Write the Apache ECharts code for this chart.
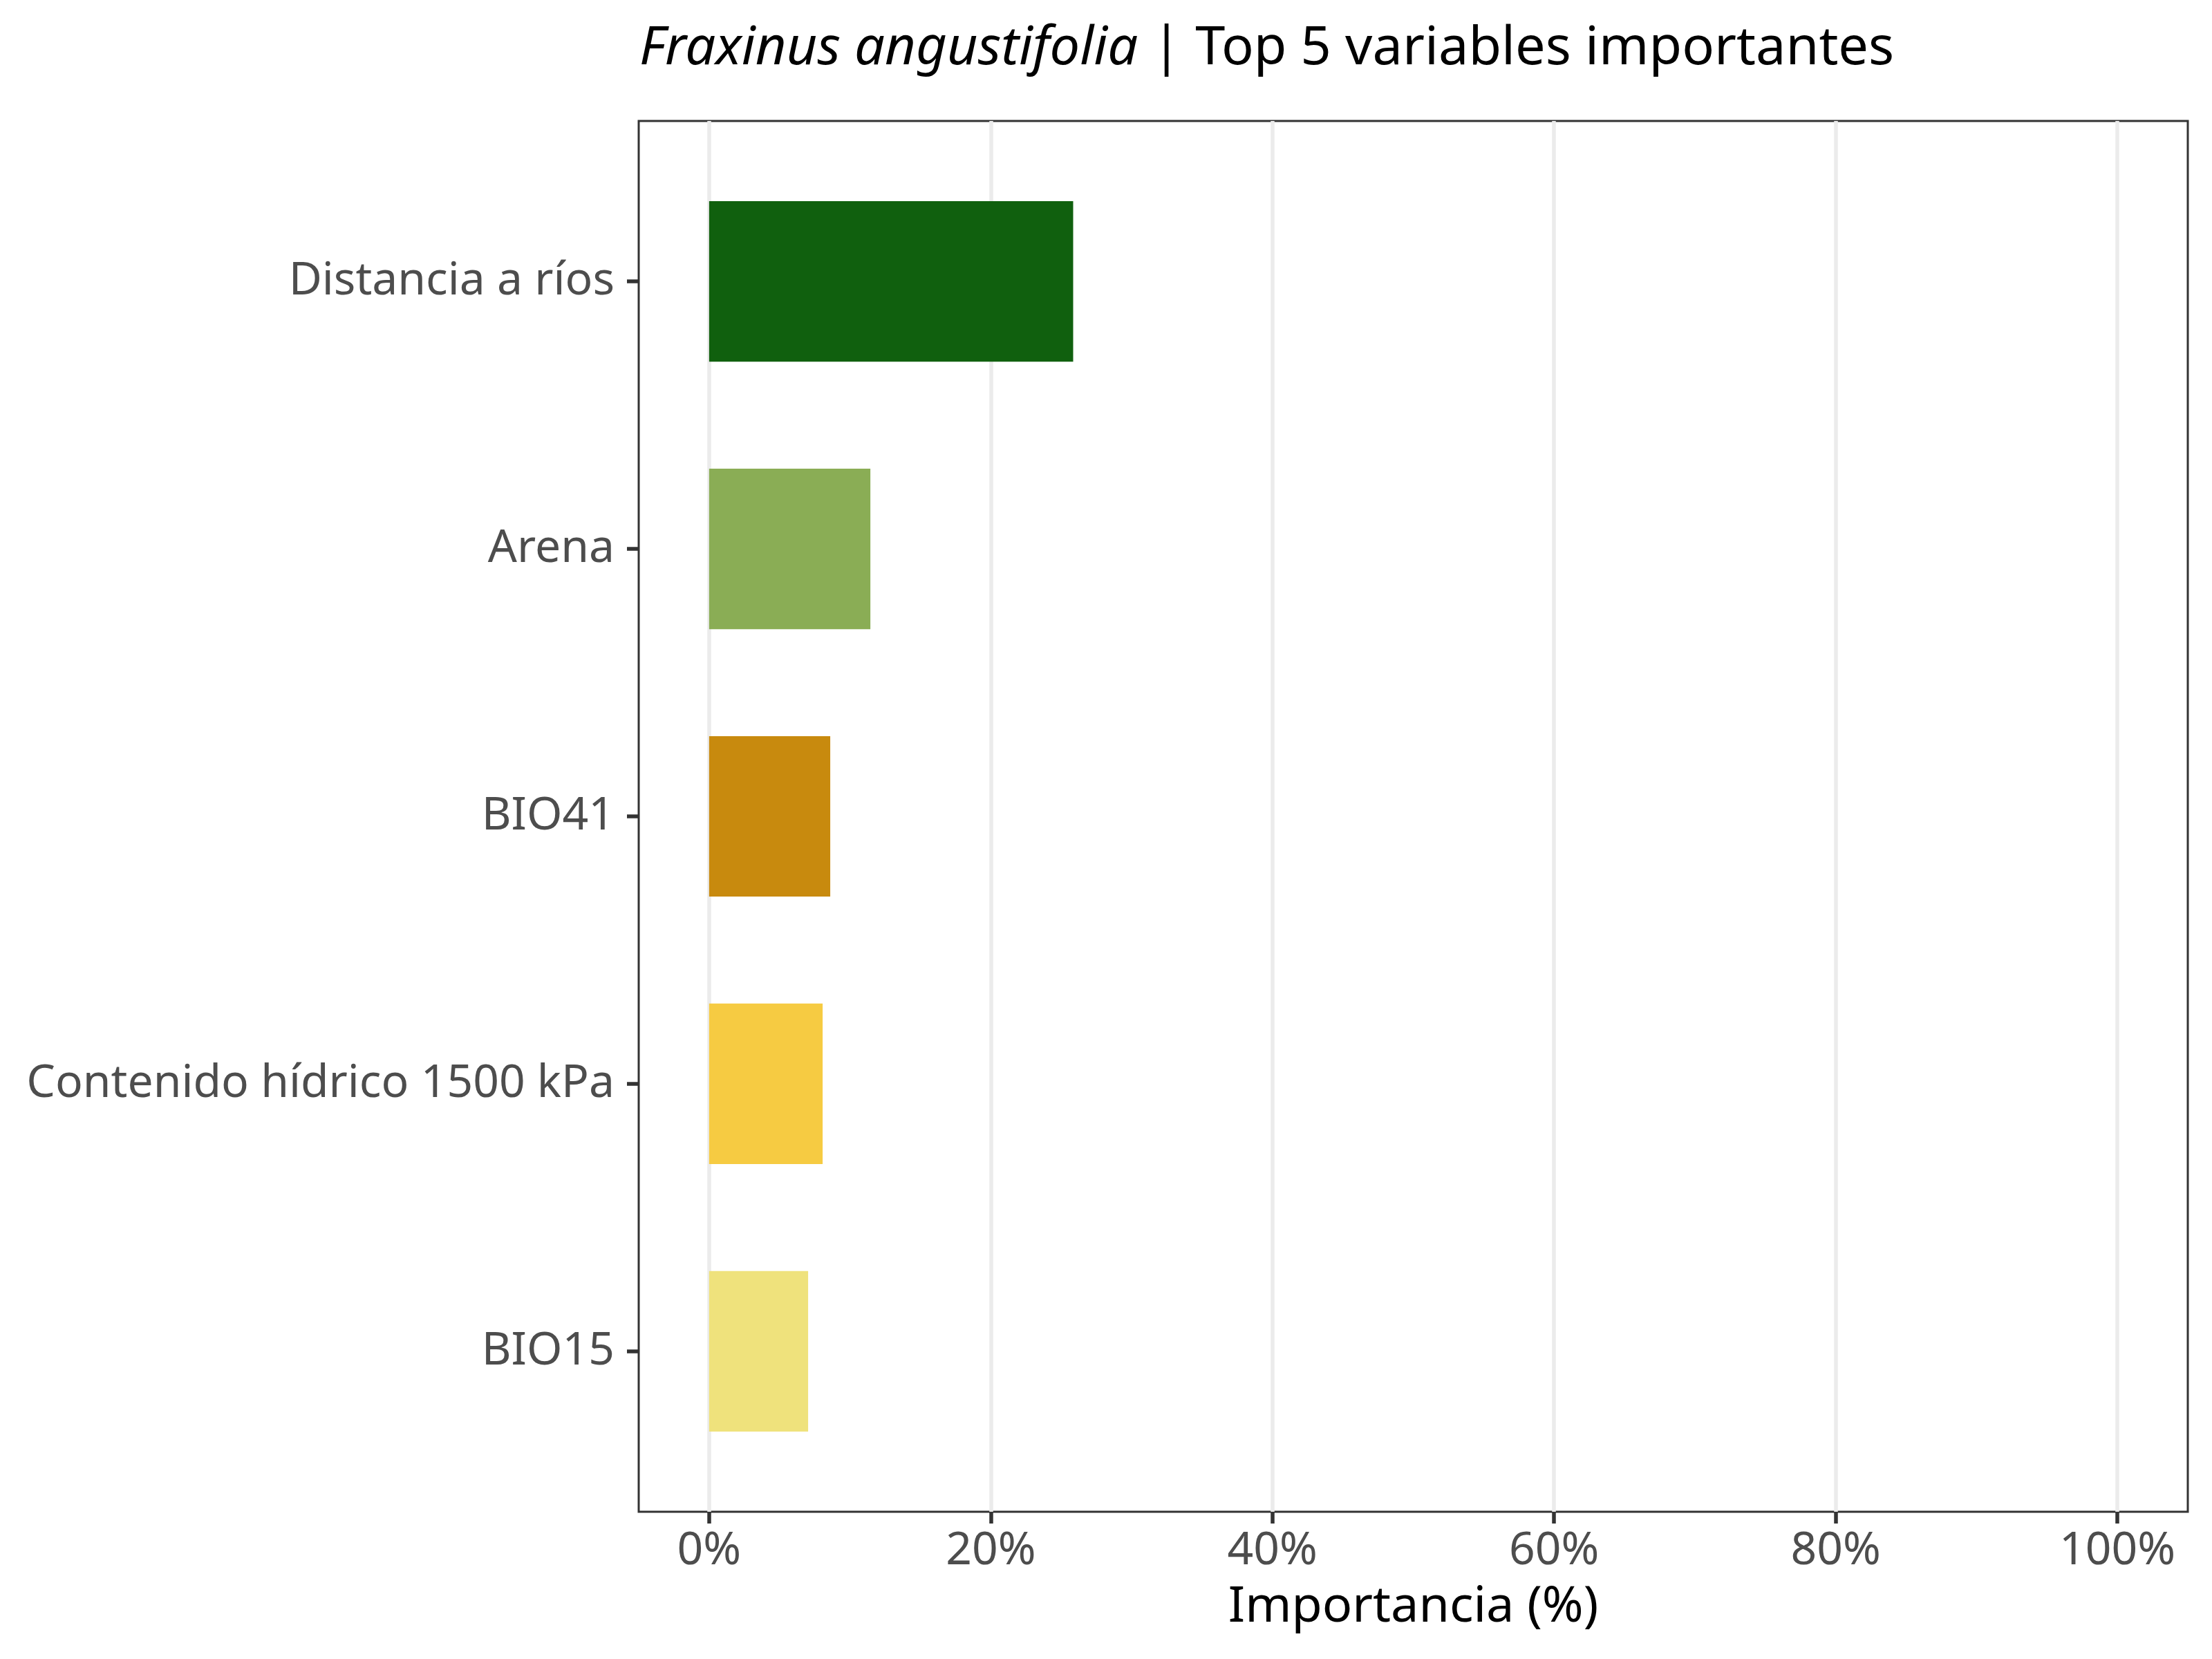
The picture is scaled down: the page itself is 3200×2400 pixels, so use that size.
<!DOCTYPE html>
<html>
<head>
<meta charset="utf-8">
<script src="https://cdn.jsdelivr.net/npm/echarts@6/dist/echarts.min.js"></script>
<style>
  html, body { margin: 0; padding: 0; background: #fff; }
  #chart { width: 3200px; height: 2400px; }
</style>
</head>
<body>
<div id="chart"></div>
<script>
// variables, top to bottom
let variables = ['Distancia a ríos', 'Arena', 'BIO41', 'Contenido hídrico 1500 kPa', 'BIO15']
let importance = [25.85, 11.45, 8.6, 8.06, 7.03]
let barColors = ['#10600e', '#8aad55', '#c88a0e', '#f6cb42', '#efe27c']
let xTicks = [0, 20, 40, 60, 80, 100]
let xExpand = [-5, 105]

let font = 'Noto Sans'
let chart = echarts.init(document.getElementById('chart'))

// panel layout (ggplot-like: x expanded 5% each side, y 0.6 units each side)
let panel = { left: 924, top: 175, width: 2241, height: 2012 }
let unit = panel.height / (variables.length + 0.2)
let zeroX = panel.left + panel.width * (0 - xExpand[0]) / (xExpand[1] - xExpand[0])
let fullW = panel.width * 100 / (xExpand[1] - xExpand[0])

let chartOpt = {
    animation: false,
    backgroundColor: '#fff',
    title: {
        left: 920,
        top: 27,
        text: '{i|Fraxinus angustifolia} | Top 5 variables importantes',
        textStyle: {
            fontFamily: font,
            fontSize: 77.5,
            fontWeight: 'normal',
            color: '#000',
            rich: {
                i: { fontFamily: font, fontSize: 77.5, fontStyle: 'italic', color: '#000' }
            }
        }
    },
    grid: [
        // panel border
        { left: panel.left, top: panel.top, width: panel.width, height: panel.height,
          outerBoundsMode: 'none', show: true, borderColor: '#333333', borderWidth: 3,
          backgroundColor: 'transparent' },
        // bars + y axis
        { left: panel.left, width: panel.width, top: panel.top + 0.1 * unit,
          height: variables.length * unit, outerBoundsMode: 'none' },
        // gridlines + x ticks
        { left: zeroX, width: fullW, top: panel.top, height: panel.height, outerBoundsMode: 'none' }
    ],
    xAxis: [
        { gridIndex: 0, type: 'value', show: false, min: 0, max: 1 },
        { gridIndex: 1, type: 'value', show: false, min: xExpand[0], max: xExpand[1] },
        {
            gridIndex: 2,
            type: 'value',
            min: xTicks[0],
            max: xTicks[xTicks.length - 1],
            interval: 20,
            axisLine: { show: false },
            axisTick: { show: true, length: 17, lineStyle: { color: '#333333', width: 5.5 } },
            axisLabel: {
                formatter: '{value}%',
                fontFamily: font,
                fontSize: 66,
                color: '#4d4d4d',
                margin: 24
            },
            splitLine: { show: true, lineStyle: { color: '#ebebeb', width: 5.5 } },
            name: 'Importancia (%)',
            nameLocation: 'middle',
            nameGap: 102,
            nameTextStyle: { fontFamily: font, fontSize: 72, color: '#000' }
        }
    ],
    yAxis: [
        { gridIndex: 0, type: 'value', show: false },
        {
            gridIndex: 1,
            type: 'category',
            data: variables,
            inverse: true,
            axisLine: { show: false, onZero: false },
            axisTick: { show: true, alignWithLabel: true, length: 17, lineStyle: { color: '#333333', width: 5.5 } },
            axisLabel: {
                fontFamily: font,
                fontSize: 66,
                color: '#4d4d4d',
                margin: 35
            },
            splitLine: { show: false }
        },
        { gridIndex: 2, type: 'value', show: false }
    ],
    series: [{
        type: 'bar',
        xAxisIndex: 1,
        yAxisIndex: 1,
        barWidth: '60%',
        data: importance.map((v, i) => ({ value: v, itemStyle: { color: barColors[i] } }))
    }]
}

chart.setOption(chartOpt)
</script>
</body>
</html>
